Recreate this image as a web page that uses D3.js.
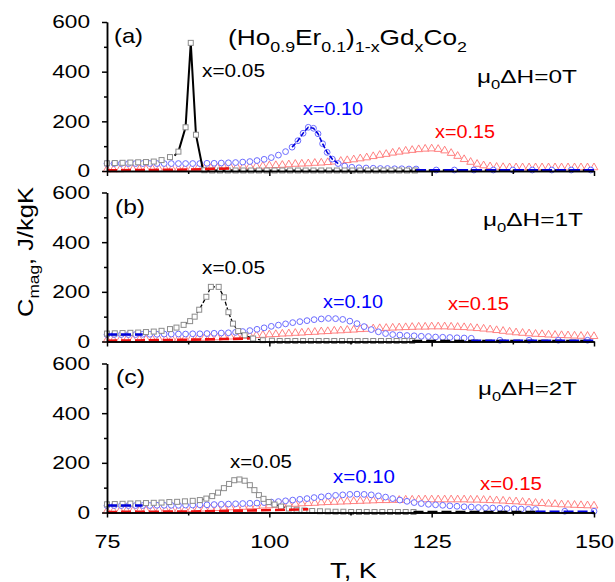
<!DOCTYPE html>
<html>
<head>
<meta charset="utf-8">
<script src="https://cdn.jsdelivr.net/npm/d3@7/dist/d3.min.js"></script>
<style>
  body { margin: 0; background: #fff; }
  text { font-family: "Liberation Sans", Arial, sans-serif; }
</style>
</head>
<body>
<svg id="chart" width="615" height="582"></svg>
<script>
// Magnetic heat capacity of (Ho0.9Er0.1)1-xGdxCo2, three field values

// ---- data: [T (K), Cmag (J/kgK)] ----
// panel (a), 0 T
const squaresA = [[75,31],[76.2,32],[77.4,33],[78.6,34],[79.8,35],[81,36],[82.2,38],[83.4,44],[84.7,56],[86,78],[87.1,176],[87.9,516],[88.7,146],
  [90,3],[91.2,2],[92.4,2],[93.6,2],[94.8,2],[96,2],[97.2,2],[98.4,2],[99.6,2],[100.8,2],[102,2],[103.2,2],[104.4,2],[105.6,2],[106.8,2],[108,2],
  [109.2,2],[110.4,2],[111.6,2],[112.8,2],[114,2],[115.2,2],[116.4,2],[117.6,2],[118.8,2],[120,2],[121.2,2],[122.4,2]];
const circlesA = [[75,30],[76.1,30],[77.2,30],[78.3,30],[79.4,30],[80.5,30],[81.6,30],[82.7,30],[83.8,30],[84.9,30],[86,30],[87.1,30],[88.2,30],
  [89.3,30],[90.4,31],[91.5,31],[92.6,32],[93.7,33],[94.8,34],[95.9,36],[97,38],[98.1,42],[99.2,47],[100.3,54],[101.4,64],[102.5,78],[103.5,96],
  [104.4,122],[105.2,152],[106,176],[106.8,172],[107.5,150],[108.2,110],[108.9,75],[109.7,48],[110.6,30],[111.6,20],[112.7,15],[113.8,13],
  [114.9,12],[116,11],[117.1,10],[118.2,10],[119.3,9],[120.4,9],[121.5,8],[122.6,8],[125.7,4],[128.5,4],[131.5,4],[134.5,4],[137.5,4],
  [140.5,4],[143.5,4],[146.5,4],[149.5,4]];
const trianglesA = [[75,4],[76,4],[77,4],[78,5],[79,5],[80,5],[81,5],[82,6],[83,6],[84,6],[85,7],[86,7],[87,8],[88,8],[89,9],[90,9],[91,10],
  [92,11],[93,12],[94,13],[95,14],[96,15],[97,16],[98,17],[99,18],[100,20],[101,21],[102,22],[103,24],[104,26],[105,27],[106,28],[107,30],
  [108,31],[109,33],[110,35],[111,38],[112,41],[113,44],[114,48],[115,52],[116,57],[117,62],[118,66],[119,71],[120,75],[121,79],[122,82],
  [123,85],[124,87],[125,88],[126,86],[127,80],[128,70],[129,58],[130,45],[131,34],[132,26],[133,20],[134,16],[135,14],[136,13],[137,12],
  [138,12],[139,12],[140,12],[141,12],[142,12],[143,12],[144,12],[145,12],[146,12],[147,12],[148,12],[149,12],[150,12]];
const blackLineA = [[85.4,62],[86,78],[87.1,176],[87.9,516],[88.7,146],[89.8,2],[122.4,2]];
const blueLineA = [[103.5,96],[104.4,122],[105.2,152],[106,176],[106.8,172],[107.5,150],[108.2,110],[108.9,75],[109.7,48],[110.6,30]];
const redDashA = [[75,3],[82,4],[88,6],[94,10]];
const blackDashA = [[122.4,2],[150,2]];
const blueDashA = [[122.6,3],[150,3]];

// panel (b), 1 T
const squaresB = [[75,32],[76.2,33],[77.4,34],[78.6,35],[79.8,36],[81,38],[82.2,40],[83.4,43],[84.7,50],[85.7,56],[86.8,67],[87.8,82],[88.5,100],
  [89.2,128],[90.3,180],[91,220],[92.2,220],[93,178],[93.7,118],[94.4,72],[95.2,42],[96.2,25],[97.5,12],[99,5],[100.4,3],[101.6,2],[102.8,2],
  [104,2],[105.2,2],[106.4,2],[107.6,2],[108.8,2],[110,2],[111.2,2],[112.4,2],[113.6,2],[114.8,2],[116,2],[117.2,2],[118.4,2],[119.6,2],
  [120.8,2],[122,2]];
const circlesB = [[75,28],[76.1,28],[77.2,28],[78.3,28],[79.4,28],[80.5,29],[81.6,29],[82.7,29],[83.8,30],[84.9,30],[86,30],[87.1,30],[88.2,31],
  [89.3,31],[90.4,32],[91.5,33],[92.6,34],[93.7,35],[94.8,37],[95.9,40],[97,44],[98.1,49],[99.2,55],[100.3,61],[101.4,66],[102.5,71],[103.6,76],
  [104.7,80],[105.8,84],[106.9,88],[108,91],[109.1,93],[110.2,92],[111.3,89],[112.4,82],[113.5,72],[114.6,60],[115.7,48],[116.8,39],[117.9,32],
  [119,28],[120.1,26],[121.2,24],[122.3,23],[123.4,21],[124.5,20],[125.6,18],[126.7,17],[127.8,16],[128.9,15],[130,14],[131.1,13],
  [135.5,5],[140,5],[144.5,5],[149,5]];
const trianglesB = [[75,4],[76,4],[77,4],[78,5],[79,5],[80,5],[81,6],[82,6],[83,7],[84,7],[85,8],[86,9],[87,9],[88,10],[89,11],[90,12],[91,13],
  [92,14],[93,16],[94,17],[95,18],[96,20],[97,21],[98,23],[99,24],[100,26],[101,27],[102,29],[103,30],[104,32],[105,33],[106,35],[107,36],
  [108,38],[109,39],[110,41],[111,42],[112,44],[113,45],[114,47],[115,48],[116,50],[117,51],[118,52],[119,53],[120,54],[121,55],[122,56],
  [123,57],[124,57],[125,58],[126,58],[127,58],[128,57],[129,56],[130,55],[131,53],[132,51],[133,49],[134,46],[135,43],[136,40],[137,37],
  [138,34],[139,32],[140,30],[141,28],[142,27],[143,25],[144,24],[145,23],[146,22],[147,21],[148,20],[149,20],[150,19]];
const blackLineB = [[86.8,67],[87.8,82],[88.5,100],[89.2,128],[90.3,180],[91,220],[92.2,220],[93,178],[93.7,118],[94.4,72],[95.2,42],[96.2,25],[97.5,12],[99,5]];
const blueDashStartB = [[75,28],[80.5,28]];
const redDashB = [[75,3],[85,6],[93,10],[97,12]];
const blackDashB = [[122,2],[150,2]];
const blueDashB = [[131.1,3],[150,3]];

// panel (c), 2 T
const squaresC = [[75,33],[76.2,34],[77.4,35],[78.6,36],[79.8,37],[81,38],[82.2,39],[83.4,40],[84.6,42],[85.8,43],[87,45],[88.2,47],[89.3,50],
  [90.3,56],[91.2,66],[92.1,80],[93,98],[93.8,115],[94.6,130],[95.4,133],[96.2,128],[97,110],[97.7,90],[98.4,70],[99.1,55],[99.9,42],
  [100.8,32],[101.8,24],[103,16],[104.2,11],[105.4,8],[106.6,6],[107.8,5],[109,4],[110.2,3],[111.4,3],[112.6,2],[113.8,2],[115,2],
  [116.2,2],[117.4,2],[118.6,2],[119.8,2],[121,2],[122.2,2]];
const circlesC = [[75,28],[76.1,28],[77.2,28],[78.3,28],[79.4,28],[80.5,28],[81.6,28],[82.7,29],[83.8,29],[84.9,29],[86,29],[87.1,30],[88.2,30],
  [89.3,31],[90.4,31],[91.5,32],[92.6,33],[93.7,34],[94.8,35],[95.9,36],[97,37],[98.1,38],[99.2,40],[100.3,42],[101.4,44],[102.5,47],
  [103.6,50],[104.7,53],[105.8,56],[106.9,60],[108,63],[109.1,66],[110.2,69],[111.3,71],[112.4,73],[113.5,74],[114.6,73],[115.7,71],
  [116.8,67],[117.9,62],[119,56],[120.1,50],[121.2,45],[122.3,40],[123.4,36],[124.5,33],[125.6,31],[126.7,29],[127.8,27],[128.9,25],
  [130,23],[131.1,22],[132.2,20],[133.3,19],[134.4,18],[135.5,17],[136.6,16],[137.7,15],[138.8,14],[139.9,13],[141,12],[145.5,5],[150,5]];
const trianglesC = [[75,4],[76,4],[77,5],[78,5],[79,5],[80,6],[81,6],[82,7],[83,7],[84,8],[85,8],[86,9],[87,10],[88,11],[89,12],[90,13],
  [91,14],[92,15],[93,16],[94,18],[95,19],[96,20],[97,22],[98,23],[99,25],[100,26],[101,28],[102,29],[103,31],[104,32],[105,34],[106,35],
  [107,36],[108,38],[109,39],[110,40],[111,41],[112,42],[113,43],[114,44],[115,45],[116,46],[117,47],[118,47],[119,48],[120,48],[121,49],
  [122,49],[123,50],[124,50],[125,50],[126,50],[127,50],[128,50],[129,50],[130,50],[131,49],[132,49],[133,48],[134,47],[135,46],[136,45],
  [137,43],[138,42],[139,40],[140,38],[141,36],[142,35],[143,33],[144,32],[145,30],[146,29],[147,28],[148,27],[149,26],[150,25]];
const blackLineC = [[89.3,50],[90.3,56],[91.2,66],[92.1,80],[93,98],[93.8,115],[94.6,130],[95.4,133],[96.2,128],[97,110],[97.7,90],[98.4,70],[99.1,55],[99.9,42],[100.8,32],[101.8,24],[103,16]];
const blueDashStartC = [[75,28],[80.5,28]];
const redDashC = [[75,2],[88,4],[97,8],[106,13]];
const blackDashC = [[122.2,2],[141.5,2]];
const blueDashC = [[141,3],[150,3]];

// ticks
const xMajor = [75, 100, 125, 150];
const xMinor = [87.5, 112.5, 137.5];
const yMajor = [0, 200, 400, 600];
const yMinor = [100, 300, 500];
const fields = ["0", "1", "2"];
const panelLabels = ["(a)", "(b)", "(c)"];
const compLabels = ["x=0.05", "x=0.10", "x=0.15"];

// ---- layout ----
const svg = d3.select("#chart");
const left = 107, right = 594, panelH = 149;
const panelBottoms = [171, 341.5, 512.5];

const x = d3.scaleLinear().domain([75, 150]).range([left, right]);

const sqColor = "#8c8c8c", ciColor = "#6b6bff", trColor = "#ff7373";
const blackC = "#000", blueC = "#0000dd", redC = "#ee1111";

// text helper: parts = [[string, isSubscript]]
function addText(g, px, py, width, size, parts, color, rotate) {
  const t = g.append("text")
    .attr("x", px).attr("y", py)
    .attr("font-size", size)
    .attr("fill", color || "#000")
    .attr("textLength", width)
    .attr("lengthAdjust", "spacingAndGlyphs");
  if (rotate) t.attr("transform", `rotate(-90,${px},${py})`);
  let sub = false;
  parts.forEach(p => {
    const ts = t.append("tspan").text(p[0]);
    if (p[1] && !sub) { ts.attr("dy", size * 0.3).attr("font-size", size * 0.68); sub = true; }
    else if (p[1]) { ts.attr("font-size", size * 0.68); }
    else if (!p[1] && sub) { ts.attr("dy", -size * 0.3); sub = false; }
  });
  return t;
}

// per-panel annotation positions (pixels): [x, baseline, width]
const annot = [
  { lab: [114, 43, 29], field: [477, 83, 100], comp: [[202, 77, 63], [303, 115, 60], [435, 138, 60]] },
  { lab: [115, 214, 30], field: [483, 226, 100], comp: [[202, 274, 63], [323, 308, 60], [448, 310, 61]] },
  { lab: [116, 384, 29], field: [478, 395, 99], comp: [[230, 468, 62], [333, 483, 62], [480, 490, 62]] }
];

const panelData = [
  { sq: squaresA, ci: circlesA, tr: trianglesA,
    dashes: [[redDashA, redC], [blackDashA, blackC], [blueDashA, blueC]],
    solids: [[blackLineA, blackC, 2, null], [blueLineA, blueC, 1.6, "5,2"]] },
  { sq: squaresB, ci: circlesB, tr: trianglesB,
    dashes: [[redDashB, redC], [blackDashB, blackC], [blueDashB, blueC], [blueDashStartB, blueC]],
    solids: [[blackLineB, blackC, 1.3, "4,2"]] },
  { sq: squaresC, ci: circlesC, tr: trianglesC,
    dashes: [[redDashC, redC], [blackDashC, blackC], [blueDashC, blueC], [blueDashStartC, blueC]],
    solids: [[blackLineC, blackC, 1.3, "4,2"]] }
];

const tri = d3.symbol().type(d3.symbolTriangle).size(26);

panelData.forEach((pd, i) => {
  const y0 = panelBottoms[i];
  const y = d3.scaleLinear().domain([0, 600]).range([y0, y0 - panelH]);
  const g = svg.append("g");
  const line = d3.line().x(d => x(d[0])).y(d => y(d[1]));

  // markers
  g.selectAll(".tr").data(pd.tr).enter().append("path")
    .attr("d", tri).attr("transform", d => `translate(${x(d[0])},${y(d[1]) - 0.5})`)
    .attr("fill", "#fff").attr("stroke", trColor).attr("stroke-width", 0.9);
  g.selectAll(".ci").data(pd.ci).enter().append("circle")
    .attr("cx", d => x(d[0])).attr("cy", d => y(d[1])).attr("r", 2.9)
    .attr("fill", "#fff").attr("stroke", ciColor).attr("stroke-width", 1);

  // connecting lines over markers
  pd.solids.forEach(([arr, col, w, dash]) => {
    g.append("path").attr("d", line(arr)).attr("fill", "none")
      .attr("stroke", col).attr("stroke-width", w).attr("stroke-dasharray", dash);
  });

  g.selectAll(".sq").data(pd.sq).enter().append("rect")
    .attr("x", d => x(d[0]) - 2.5).attr("y", d => y(d[1]) - 2.5)
    .attr("width", 5).attr("height", 5)
    .attr("fill", "#fff").attr("stroke", sqColor).attr("stroke-width", 1);

  // thick dashed base lines, on top of the markers
  pd.dashes.forEach(([arr, col]) => {
    g.append("path").attr("d", line(arr)).attr("fill", "none")
      .attr("stroke", col).attr("stroke-width", 2.6).attr("stroke-dasharray", "10,4");
  });

  // axes
  const yAx = g.append("g").attr("transform", `translate(${left},0)`)
    .call(d3.axisLeft(y).tickValues(yMajor).tickSize(5).tickSizeOuter(0).tickPadding(12));
  g.append("g").attr("transform", `translate(${left},0)`)
    .call(d3.axisLeft(y).tickValues(yMinor).tickSize(3).tickSizeOuter(0).tickFormat(""));
  yAx.selectAll("text")
    .attr("font-size", 18.5).attr("font-family", "Liberation Sans, Arial, sans-serif")
    .attr("fill", "#000")
    .attr("textLength", d => String(d).length * 12.6).attr("lengthAdjust", "spacingAndGlyphs");

  const xAx = g.append("g").attr("transform", `translate(0,${y0})`)
    .call(d3.axisBottom(x).tickValues(xMajor).tickSize(5).tickSizeOuter(0).tickPadding(17)
      .tickFormat(i === 2 ? d3.format("d") : ""));
  g.append("g").attr("transform", `translate(0,${y0})`)
    .call(d3.axisBottom(x).tickValues(xMinor).tickSize(3).tickSizeOuter(0).tickFormat(""));
  xAx.selectAll("text")
    .attr("font-size", 19).attr("font-family", "Liberation Sans, Arial, sans-serif")
    .attr("fill", "#000")
    .attr("textLength", d => String(d).length * 13).attr("lengthAdjust", "spacingAndGlyphs");

  g.selectAll(".domain, .tick line").attr("stroke", "#000").attr("stroke-width", 1.5);

  // annotations
  const a = annot[i];
  addText(g, a.lab[0], a.lab[1], a.lab[2], 21, [[panelLabels[i], false]]);
  addText(g, a.field[0], a.field[1], a.field[2], 19,
    [["\u03bc", false], ["0", true], ["\u0394H=" + fields[i] + "T", false]]);
  const cols = ["#000", "#0000ff", "#ff0000"];
  a.comp.forEach((c, k) => addText(g, c[0], c[1], c[2], 18, [[compLabels[k], false]], cols[k]));
});

// title
addText(svg, 228, 45, 239, 22, [["(Ho", false], ["0.9", true], ["Er", false], ["0.1", true], [")", false],
  ["1-x", true], ["Gd", false], ["x", true], ["Co", false], ["2", true]]);

// axis titles
addText(svg, 330, 578, 47, 22, [["T, K", false]]);
addText(svg, 32.5, 317, 130, 22, [["C", false], ["mag", true], [", J/kgK", false]], "#000", true);
</script>
</body>
</html>
